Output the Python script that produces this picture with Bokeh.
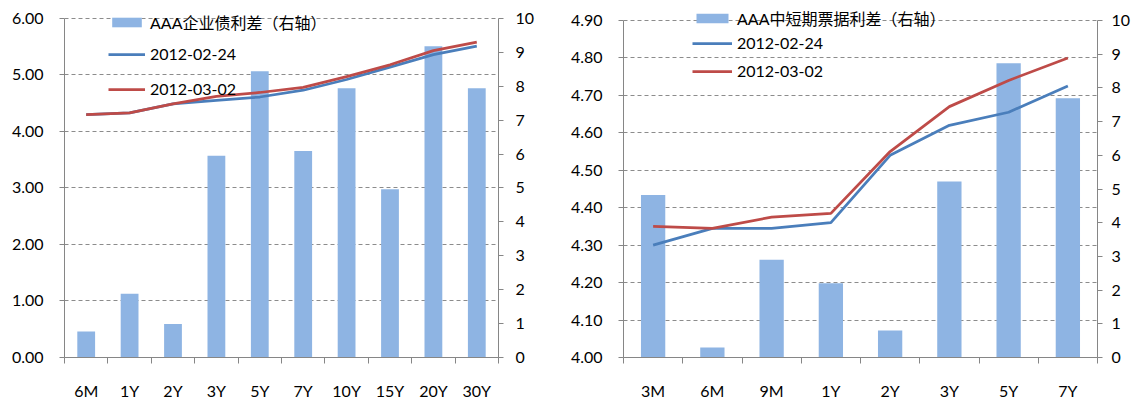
from bokeh.plotting import figure
from bokeh.models import (Range1d, LinearAxis, FixedTicker, Legend, LegendItem,
                          ColumnDataSource, NumeralTickFormatter)
from bokeh.layouts import row
from bokeh.embed import file_html
from bokeh.resources import INLINE
import numpy as np

# ---------------- data ----------------
corp_terms = ["6M", "1Y", "2Y", "3Y", "5Y", "7Y", "10Y", "15Y", "20Y", "30Y"]
corp_spread = [0.77, 1.88, 0.99, 5.95, 8.44, 6.09, 7.94, 4.96, 9.18, 7.94]   # right axis
corp_0224 = [4.30, 4.33, 4.49, 4.55, 4.61, 4.73, 4.92, 5.14, 5.36, 5.51]     # left axis
corp_0302 = [4.30, 4.33, 4.49, 4.62, 4.69, 4.78, 4.97, 5.18, 5.43, 5.58]

cp_terms = ["3M", "6M", "9M", "1Y", "2Y", "3Y", "5Y", "7Y"]
cp_spread = [4.82, 0.30, 2.90, 2.20, 0.80, 5.22, 8.73, 7.69]                  # right axis
cp_0224 = [4.30, 4.345, 4.345, 4.36, 4.54, 4.62, 4.655, 4.725]                # left axis
cp_0302 = [4.35, 4.345, 4.375, 4.385, 4.55, 4.67, 4.74, 4.80]

corp_left_ticks = [0, 1, 2, 3, 4, 5, 6]
cp_left_ticks = [4.0, 4.1, 4.2, 4.3, 4.4, 4.5, 4.6, 4.7, 4.8, 4.9]
right_ticks = list(range(11))

series_names = ["2012-02-24", "2012-03-02"]
bar_names = ["AAA企业债利差（右轴）", "AAA中短期票据利差（右轴）"]

FONT = "Lato, 'Noto Sans CJK SC'"
BAR_C = "#8EB4E3"
BLUE = "#4A7EBB"
RED = "#BE4B48"
AXIS_C = "#868686"
GRID_C = "#8C8C8C"


def make_chart(terms, spread, s1, s2, yr, left_ticks, bar_name,
               width, height, borders, plot_h, pad_top, glyph_w, legend_locs,
               lstand, rstand):
    n = len(terms)
    centers = list(np.arange(n) + 0.5)
    src = ColumnDataSource(dict(x=centers, spread=spread, s1=s1, s2=s2))
    bl, br, bt, bb = borders
    # extend the frame a few pixels above the top tick so the legend is not clipped
    y0, y1 = yr
    ytop = y1 + pad_top * (y1 - y0) / plot_h
    rtop = 10 + pad_top * 10.0 / plot_h
    p = figure(width=width, height=height, output_backend="svg",
               toolbar_location=None, x_range=Range1d(0, n),
               y_range=Range1d(y0, ytop), min_border_left=bl,
               min_border_right=br, min_border_top=bt, min_border_bottom=bb)
    p.extra_y_ranges = {"spread": Range1d(0, rtop)}
    p.outline_line_color = None
    p.background_fill_color = "white"
    p.border_fill_color = "white"

    bars = p.vbar(x="x", top="spread", width=0.41, source=src,
                  y_range_name="spread", fill_color=BAR_C, line_color=None)
    l1 = p.line("x", "s1", source=src, line_color=BLUE, line_width=2.75)
    l2 = p.line("x", "s2", source=src, line_color=RED, line_width=2.75)

    # x axis: labels at centres, ticks at category boundaries
    xa = p.xaxis[0]
    xa.ticker = FixedTicker(ticks=centers, minor_ticks=list(range(n + 1)))
    xa.major_label_overrides = {float(c): t for c, t in zip(centers, terms)}
    xa.major_tick_out = 0
    xa.major_tick_in = 0
    xa.major_tick_line_color = None
    xa.minor_tick_out = 6
    xa.minor_tick_in = 0
    xa.minor_tick_line_color = AXIS_C
    xa.axis_line_color = AXIS_C
    xa.major_label_standoff = 17
    xa.major_label_text_font = FONT
    xa.major_label_text_font_size = "16px"
    xa.major_label_text_color = "black"

    ya = p.yaxis[0]
    ya.ticker = FixedTicker(ticks=left_ticks)
    ya.formatter = NumeralTickFormatter(format="0.00")
    ya.bounds = (y0, y1)
    ya.major_tick_out = 5
    ya.major_tick_in = 0
    ya.minor_tick_line_color = None
    ya.major_tick_line_color = AXIS_C
    ya.axis_line_color = AXIS_C
    ya.major_label_standoff = lstand
    ya.major_label_text_font = FONT
    ya.major_label_text_font_size = "16px"
    ya.major_label_text_color = "black"

    ra = LinearAxis(y_range_name="spread", ticker=FixedTicker(ticks=right_ticks),
                    bounds=(0, 10))
    ra.major_tick_out = 5
    ra.major_tick_in = 0
    ra.minor_tick_line_color = None
    ra.major_tick_line_color = AXIS_C
    ra.axis_line_color = AXIS_C
    ra.major_label_standoff = rstand
    ra.major_label_text_font = FONT
    ra.major_label_text_font_size = "16px"
    ra.major_label_text_color = "black"
    p.add_layout(ra, "right")

    p.xgrid.visible = False
    p.ygrid.ticker = FixedTicker(ticks=left_ticks)
    p.ygrid.grid_line_color = GRID_C
    p.ygrid.grid_line_dash = "4 3"
    p.ygrid.grid_line_width = 1

    for item, loc in zip([LegendItem(label=bar_name, renderers=[bars]),
                          LegendItem(label=series_names[0], renderers=[l1]),
                          LegendItem(label=series_names[1], renderers=[l2])],
                         legend_locs):
        lg = Legend(items=[item], location=loc, padding=0, margin=0,
                    glyph_width=glyph_w, glyph_height=12, label_height=18,
                    label_standoff=5, border_line_color=None,
                    background_fill_alpha=0, label_text_font=FONT,
                    label_text_font_size="16px", label_text_color="black")
        p.add_layout(lg, "center")
    return p


# left chart: plot area 434 x 340, 10 px of headroom for the legend
left = make_chart(corp_terms, corp_spread, corp_0224, corp_0302, (0, 6),
                  corp_left_ticks, bar_names[0], 556, 398, (56, 66, 0, 48),
                  340, 10, 37, [(44, 323), (44, 294), (44, 259)], 16, 12)
# right chart: plot area 474 x 337, 12 px of headroom for the legend
right = make_chart(cp_terms, cp_spread, cp_0224, cp_0302, (4.0, 4.9),
                   cp_left_ticks, bar_names[1], 570, 398, (59, 37, 0, 49),
                   337, 12, 40, [(69, 327), (69, 305), (69, 277)], 16, 9)

layout = row(left, right, margin=(8, 0, 0, 8))
open("out.html", "w").write(file_html(layout, INLINE))
